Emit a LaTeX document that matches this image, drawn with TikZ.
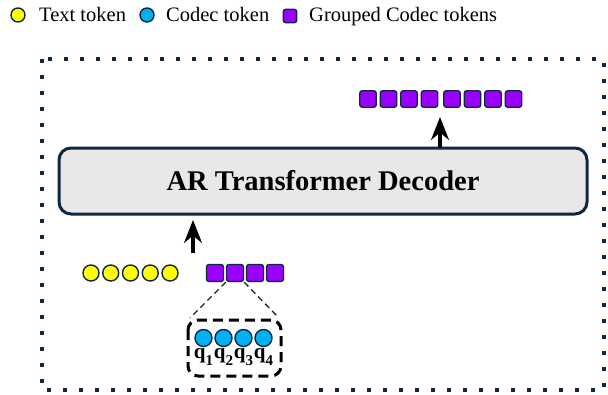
\documentclass[tikz,border=0pt]{standalone}
\usepackage{fontspec}
\setmainfont{Liberation Serif}
\usetikzlibrary{arrows.meta}
\definecolor{navy}{HTML}{0E2841}
\definecolor{txtyellow}{HTML}{FFFF00}
\definecolor{codecblue}{HTML}{00B0F0}
\definecolor{grppurple}{HTML}{9900FF}
\definecolor{decgray}{HTML}{E8E8E8}

\begin{document}
\begin{tikzpicture}[x=1pt, y=-1pt,
		tok/.style={circle, draw=navy, line width=1.4pt, inner sep=0pt, minimum size=16pt},
		txttok/.style={tok, fill=txtyellow},
		codectok/.style={tok, fill=codecblue, minimum size=17pt},
		grptok/.style={rectangle, rounded corners=2.5pt, draw=navy, line width=1.4pt, inner sep=0pt, minimum size=16.5pt, fill=grppurple},
		legendtext/.style={anchor=base west, inner sep=0pt, font=\fontsize{20.5}{24}\selectfont},
		uparrow/.style={line width=3.5pt, -{Stealth[length=23pt, width=18pt]}}]
		\useasboundingbox (0, 0) rectangle (608, 394);
		\draw[navy, line width=4pt, dash pattern=on 4pt off 12pt] (42, 59) rectangle (604, 390);
		\node[txttok, minimum size=14pt] (legtxt) at (18, 15) {};
		\node[legendtext] (legtxtlabel) at (39, 21) {Text token};
		\node[codectok, minimum size=14pt] (legcodec) at (147, 15) {};
		\node[legendtext] (legcodeclabel) at (166, 21) {Codec token};
		\node[grptok, minimum size=13.5pt] (leggrp) at (290, 16) {};
		\node[legendtext] (leggrplabel) at (309, 21) {Grouped Codec tokens};
		\node[draw=navy, line width=3pt, fill=decgray, rounded corners=12pt, minimum width=528pt, minimum height=66pt, font=\bfseries\fontsize{28.5}{32}\selectfont] (dec) at (323, 181) {AR Transformer Decoder};
		\foreach \x [count=\i] in {368, 388.5, 409, 429.5, 452, 472.5, 493, 513.5}
			\node[grptok] (out\i) at (\x, 99) {};
		\coordinate (uptip) at (440, 117);
		\draw[uparrow] (dec.north -| uptip) -- (uptip);
		\foreach \x [count=\i] in {91, 110.75, 130.5, 150.25, 170}
			\node[txttok] (t\i) at (\x, 273) {};
		\foreach \x [count=\i] in {215, 235, 255, 275}
			\node[grptok, minimum size=17pt] (g\i) at (\x, 273) {};
		\coordinate (lowtail) at (193, 253);
		\coordinate (lowtip) at (193, 220);
		\draw[uparrow] (lowtail) -- (lowtip);
		\draw[black, line width=3pt, dash pattern=on 10pt off 6pt, rounded corners=10pt] (188, 320) rectangle (281, 376);
		\coordinate (boxnw) at (190, 318);
		\coordinate (boxne) at (279, 318);
		\draw[navy, line width=1.3pt, dash pattern=on 6pt off 4pt] (g2.south west) -- (boxnw);
		\draw[navy, line width=1.3pt, dash pattern=on 6pt off 4pt] (g2.south east) -- (boxne);
		\foreach \x [count=\i] in {203.5, 223.5, 243.5, 263.5} {
			\node[codectok] (c\i) at (\x, 338) {};
			\node[anchor=base, inner sep=0pt, font=\bfseries\fontsize{21}{22}\selectfont] (q\i) at (\x, 358) {q\raisebox{-7.5pt}{\fontsize{15}{15}\selectfont\i}};
		}
	\end{tikzpicture}
\end{document}
